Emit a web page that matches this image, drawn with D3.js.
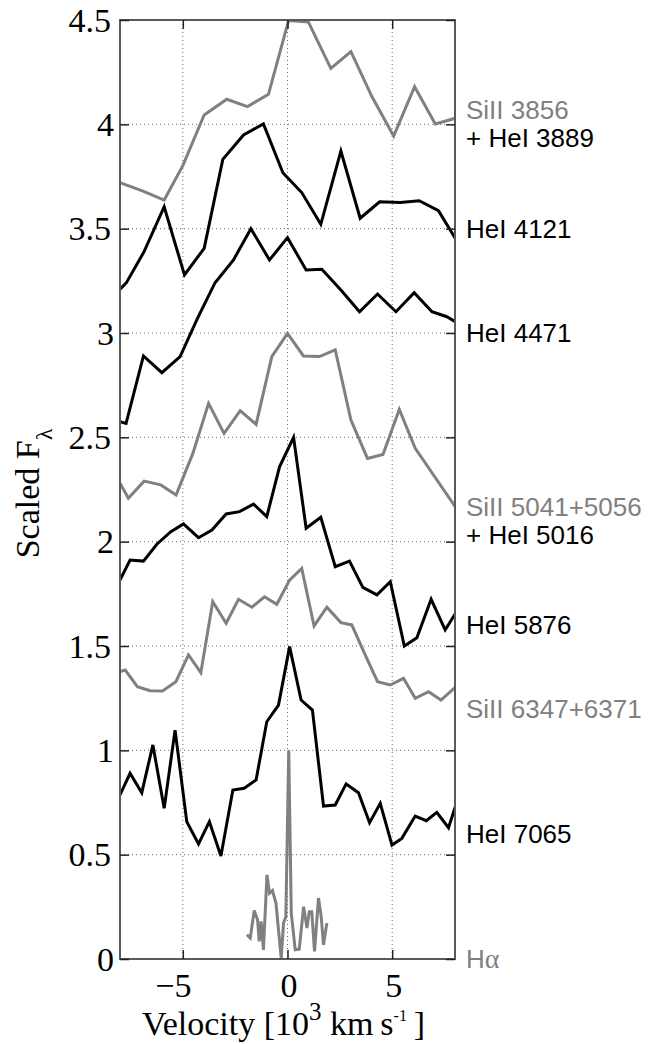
<!DOCTYPE html>
<html>
<head>
<meta charset="utf-8">
<script src="https://cdn.jsdelivr.net/npm/d3@7/dist/d3.min.js"></script>
<style>
  html, body { margin: 0; padding: 0; background: #fff; }
  svg { display: block; }
</style>
</head>
<body>
<script>
// ---------------- DATA ----------------
const velSi3856 = [-8.0, -6.9, -5.89, -5.0, -3.98, -2.9, -1.91, -0.91, 0.05, 1.0, 2.07, 3.03, 4.03, 5.07, 6.07, 7.06, 8.01];
const fluxSi3856 = [3.72, 3.68, 3.637, 3.802, 4.045, 4.12, 4.085, 4.144, 4.497, 4.49, 4.268, 4.348, 4.133, 3.944, 4.18, 4.002, 4.029];

const velHe4121 = [-8.0, -7.7, -6.85, -5.89, -4.92, -3.98, -3.09, -2.10, -1.15, -0.22, 0.68, 1.59, 2.55, 3.47, 4.40, 5.38, 6.29, 7.21, 8.01];
const fluxHe4121 = [3.21, 3.24, 3.39, 3.605, 3.278, 3.406, 3.832, 3.949, 4.002, 3.768, 3.673, 3.521, 3.872, 3.55, 3.629, 3.626, 3.634, 3.586, 3.454];

const velHe4471 = [-8.0, -7.71, -6.88, -6.0, -5.13, -4.3, -3.46, -2.58, -1.75, -0.86, 0.0, 0.89, 1.64, 2.55, 3.44, 4.3, 5.18, 6.05, 6.9, 7.61, 8.01];
const fluxHe4471 = [2.575, 2.567, 2.89, 2.81, 2.887, 3.07, 3.241, 3.35, 3.50, 3.35, 3.457, 3.302, 3.305, 3.206, 3.102, 3.187, 3.102, 3.193, 3.102, 3.078, 3.054];

const velSi5041 = [-8.0, -7.6, -6.85, -6.05, -5.32, -4.52, -3.77, -3.03, -2.26, -1.5, -0.75, 0.0, 0.76, 1.53, 2.28, 3.03, 3.82, 4.56, 5.34, 6.1, 8.01];
const fluxSi5041 = [2.28, 2.208, 2.29, 2.272, 2.224, 2.423, 2.663, 2.519, 2.628, 2.562, 2.887, 2.998, 2.89, 2.887, 2.919, 2.583, 2.399, 2.418, 2.634, 2.447, 2.168];

const velHe5876 = [-8.0, -7.52, -6.88, -6.23, -5.57, -4.97, -4.25, -3.61, -2.93, -2.29, -1.62, -0.99, -0.38, 0.29, 0.89, 1.59, 2.28, 2.96, 3.6, 4.27, 4.91, 5.58, 6.18, 6.86, 7.53, 8.01];
const fluxHe5876 = [1.816, 1.912, 1.907, 1.989, 2.048, 2.085, 2.019, 2.056, 2.133, 2.144, 2.18, 2.12, 2.359, 2.5, 2.064, 2.117, 1.88, 1.907, 1.781, 1.745, 1.808, 1.5, 1.54, 1.724, 1.577, 1.654];

const velSi6347 = [-8.0, -7.75, -7.17, -6.56, -5.97, -5.33, -4.73, -4.14, -3.57, -2.93, -2.34, -1.7, -1.1, -0.51, 0.1, 0.68, 1.27, 1.88, 2.55, 3.07, 3.7, 4.3, 4.91, 5.54, 6.1, 6.74, 7.33, 8.01];
const fluxSi6347 = [1.377, 1.385, 1.305, 1.286, 1.284, 1.329, 1.457, 1.372, 1.712, 1.609, 1.724, 1.686, 1.736, 1.70, 1.816, 1.872, 1.596, 1.686, 1.612, 1.601, 1.46, 1.329, 1.313, 1.345, 1.249, 1.281, 1.241, 1.302];

const velHe7065 = [-8.0, -7.52, -6.96, -6.43, -5.89, -5.37, -4.81, -4.25, -3.73, -3.18, -2.61, -2.07, -1.5, -0.99, -0.43, 0.1, 0.65, 1.19, 1.72, 2.28, 2.8, 3.39, 3.92, 4.43, 4.99, 5.46, 6.1, 6.63, 7.13, 7.69, 8.01];
const fluxHe7065 = [0.786, 0.89, 0.797, 1.026, 0.722, 1.097, 0.658, 0.551, 0.658, 0.494, 0.81, 0.818, 0.858, 1.137, 1.217, 1.497, 1.241, 1.193, 0.733, 0.738, 0.839, 0.797, 0.653, 0.746, 0.546, 0.578, 0.685, 0.663, 0.703, 0.629, 0.729];

const velHalpha = [-1.94, -1.78, -1.59, -1.43, -1.35, -1.26, -1.15, -0.98, -0.86, -0.72, -0.55, -0.43, -0.3, -0.19, -0.08, 0.06, 0.18, 0.37, 0.56, 0.77, 0.93, 1.04, 1.16, 1.29, 1.48, 1.61, 1.72, 1.88];
const fluxHalpha = [0.116, 0.1, 0.232, 0.188, 0.084, 0.18, 0.044, 0.403, 0.315, 0.328, 0.268, 0.14, 0.004, 0.172, 0.203, 1.0, 0.22, 0.044, 0.047, 0.251, 0.148, 0.227, 0.227, 0.036, 0.292, 0.203, 0.068, 0.172];

// label lines (text pieces and their colours) and the flux value each label is centred on
const labelLines = [
  [["SiII 3856", "gray"], ["+ HeI 3889", "black"]],
  [["HeI 4121", "black"]],
  [["HeI 4471", "black"]],
  [["SiII 5041+5056", "gray"], ["+ HeI 5016", "black"]],
  [["HeI 5876", "black"]],
  [["SiII 6347+6371", "gray"]],
  [["HeI 7065", "black"]],
  [["H", "gray", "\u03b1"]]
];
const labelValues = [4.0, 3.5, 3.0, 2.1, 1.6, 1.2, 0.6, 0.0];

const xDomain = [-8, 8];
const yDomain = [0, 4.5];
const xTicks = [-5, 0, 5];
const yTicks = [0, 0.5, 1, 1.5, 2, 2.5, 3, 3.5, 4, 4.5];

// ---------------- CHART ----------------
const W = 652, H = 1044;
const m = { left: 120, right: 455, top: 20, bottom: 959 };
const GRAY = "#808080";
const SERIF = "'Liberation Serif', 'Times New Roman', serif";
const SANS = "'Liberation Sans', Arial, sans-serif";

const svg = d3.select("body").append("svg").attr("width", W).attr("height", H);

const x = d3.scaleLinear().domain(xDomain).range([m.left, m.right]);
const y = d3.scaleLinear().domain(yDomain).range([m.bottom, m.top]);

// grid
const grid = svg.append("g").attr("stroke", "#6a6a6a").attr("stroke-width", 1).attr("stroke-dasharray", "1,3");
xTicks.forEach(v => grid.append("line").attr("x1", x(v)).attr("x2", x(v)).attr("y1", m.top).attr("y2", m.bottom));
yTicks.filter(v => v > 0 && v < 4.5).forEach(v => grid.append("line").attr("x1", m.left).attr("x2", m.right).attr("y1", y(v)).attr("y2", y(v)));

// series
const series = [
  { vel: velSi3856, flux: fluxSi3856, color: GRAY },
  { vel: velHe4121, flux: fluxHe4121, color: "#000" },
  { vel: velHe4471, flux: fluxHe4471, color: "#000" },
  { vel: velSi5041, flux: fluxSi5041, color: GRAY },
  { vel: velHe5876, flux: fluxHe5876, color: "#000" },
  { vel: velSi6347, flux: fluxSi6347, color: GRAY },
  { vel: velHe7065, flux: fluxHe7065, color: "#000" },
  { vel: velHalpha, flux: fluxHalpha, color: GRAY }
];

svg.append("clipPath").attr("id", "clip").append("rect")
  .attr("x", m.left).attr("y", m.top).attr("width", m.right - m.left).attr("height", m.bottom - m.top);

const line = d3.line().x(d => x(d[0])).y(d => y(d[1]));
const lg = svg.append("g").attr("clip-path", "url(#clip)");
series.forEach(s => {
  lg.append("path")
    .datum(s.vel.map((v, i) => [v, s.flux[i]]))
    .attr("d", line)
    .attr("fill", "none")
    .attr("stroke", s.color)
    .attr("stroke-width", 3)
    .attr("stroke-linejoin", "miter")
    .attr("stroke-miterlimit", 4);
});

// box
svg.append("rect").attr("x", m.left).attr("y", m.top)
  .attr("width", m.right - m.left).attr("height", m.bottom - m.top)
  .attr("fill", "none").attr("stroke", "#5a5a5a").attr("stroke-width", 2);

// axes (ticks inward)
const tickLen = 9;
const fmt = d3.format("");
const axB = svg.append("g").attr("transform", `translate(0,${m.bottom})`)
  .call(d3.axisBottom(x).tickValues(xTicks).tickSize(-tickLen).tickPadding(14).tickFormat(d => fmt(d)));
const axT = svg.append("g").attr("transform", `translate(0,${m.top})`)
  .call(d3.axisTop(x).tickValues(xTicks).tickSize(-tickLen).tickFormat(""));
const axL = svg.append("g").attr("transform", `translate(${m.left},0)`)
  .call(d3.axisLeft(y).tickValues(yTicks).tickSize(-tickLen).tickPadding(6).tickFormat(d => fmt(d)));
const axR = svg.append("g").attr("transform", `translate(${m.right},0)`)
  .call(d3.axisRight(y).tickValues(yTicks).tickSize(-tickLen).tickFormat(""));

[axB, axT, axL, axR].forEach(a => {
  a.select(".domain").remove();
  a.selectAll(".tick line").attr("stroke", "#222").attr("stroke-width", 1.5);
  a.selectAll("text").attr("font-family", SERIF).attr("font-size", 34).attr("fill", "#000");
});
axB.selectAll(".tick text").attr("dy", "0.71em").attr("dx", d => d < 0 ? -10 : 1);
axL.selectAll(".tick text").attr("dy", "0.33em").attr("x", d => Number.isInteger(d) ? -6 : -9);

// right labels
const lab = svg.append("g").attr("font-family", SANS).attr("font-size", 26);
labelLines.forEach((lines, i) => {
  const cy = y(labelValues[i]);
  const n = lines.length;
  lines.forEach((ln, j) => {
    const off = (j - (n - 1) / 2) * 28;
    const t = lab.append("text")
      .attr("x", 466)
      .attr("y", cy + off + 9)
      .attr("fill", ln[1] === "gray" ? GRAY : "#000");
    t.append("tspan").text(ln[0]);
    if (ln[2]) t.append("tspan").attr("font-family", SERIF).attr("font-size", 28).text(ln[2]);
  });
});

// y label
const yl = svg.append("text")
  .attr("transform", `translate(39,${(m.top + m.bottom) / 2 + 4}) rotate(-90)`)
  .attr("text-anchor", "middle")
  .attr("font-family", SERIF)
  .attr("font-size", 34).attr("fill", "#000");
yl.append("tspan").text("Scaled F");
yl.append("tspan").attr("dy", 13).attr("font-size", 24).text("\u03bb");

// x label
const xl = svg.append("text")
  .attr("x", (m.left + m.right) / 2 - 4).attr("y", 1035)
  .attr("text-anchor", "middle")
  .attr("font-family", SERIF)
  .attr("font-size", 34).attr("fill", "#000");
xl.append("tspan").text("Velocity [10");
xl.append("tspan").attr("dy", -15).attr("font-size", 25).text("3");
xl.append("tspan").attr("dy", 15).text(" km\u2009s");
xl.append("tspan").attr("dy", -14).attr("font-size", 16).text("-1");
xl.append("tspan").attr("dy", 14).text("\u2009]");
</script>
</body>
</html>
